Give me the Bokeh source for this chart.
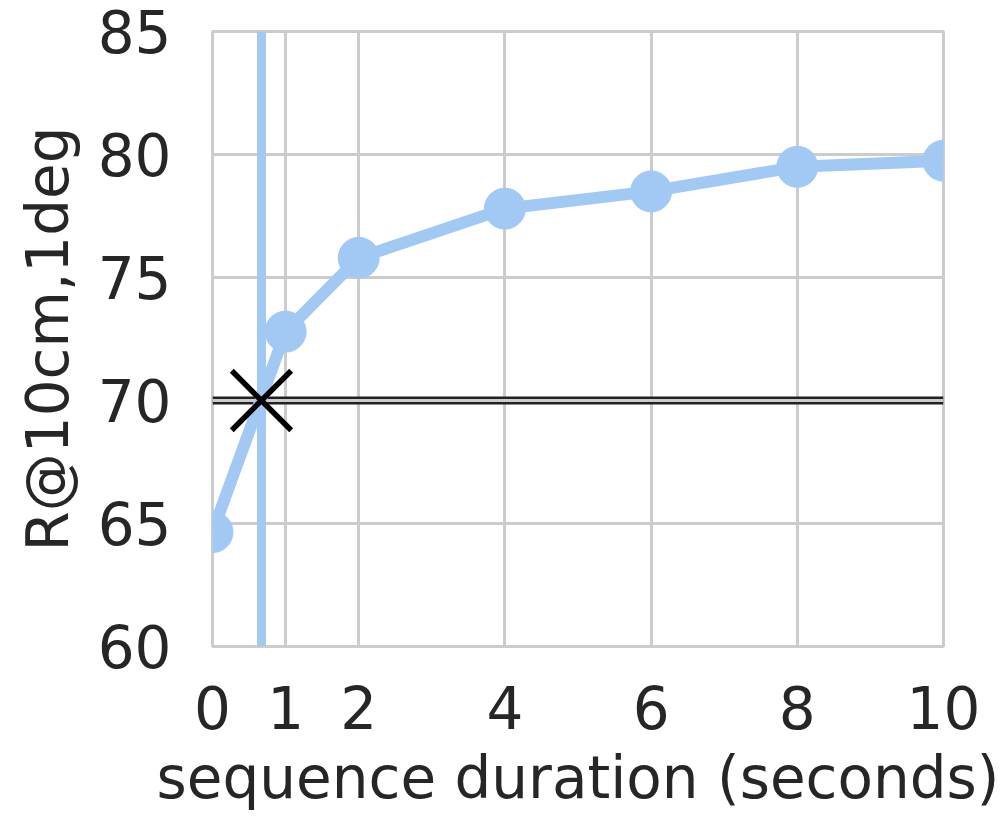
from bokeh.plotting import figure
from bokeh.models import Span, FixedTicker, Range1d
from bokeh.embed import file_html
from bokeh.resources import INLINE

durations = [0, 1, 2, 4, 6, 8, 10]
recall = [64.65, 72.8, 75.8, 77.8, 78.5, 79.5, 79.75]
x_ticks = [0, 1, 2, 4, 6, 8, 10]
y_ticks = [60, 65, 70, 75, 80, 85]
ref_x = [0.67]
ref_y = [70]

BLUE = "#a1c9f4"
GRID = "#cccccc"
TXT = "#262626"
FONT = "DejaVu Sans"

p = figure(width=1007, height=818, output_backend="svg", toolbar_location=None,
           x_range=Range1d(0, 10), y_range=Range1d(60, 85),
           min_border_left=212, min_border_right=64, min_border_top=31, min_border_bottom=172)

p.outline_line_color = GRID
p.outline_line_width = 3
p.background_fill_color = "white"

for ax in (p.xaxis, p.yaxis):
    ax.axis_line_color = None
    ax.major_tick_line_color = None
    ax.minor_tick_line_color = None
    ax.major_label_text_font = FONT
    ax.major_label_text_font_size = "58px"
    ax.major_label_text_color = TXT
    ax.axis_label_text_font = FONT
    ax.axis_label_text_font_size = "58px"
    ax.axis_label_text_color = TXT
    ax.axis_label_text_font_style = "normal"

p.xaxis.ticker = FixedTicker(ticks=x_ticks)
p.yaxis.ticker = FixedTicker(ticks=y_ticks)
p.xaxis.axis_label = "sequence duration (seconds)"
p.yaxis.axis_label = "R@10cm,1deg"
p.xaxis.major_label_standoff = 33
p.xaxis.axis_label_standoff = 12
p.yaxis.major_label_standoff = 35
p.yaxis.axis_label_standoff = 13

p.grid.grid_line_color = GRID
p.grid.grid_line_width = 3

p.add_layout(Span(location=ref_y[0], dimension="width", line_color="#222222", line_width=8, level="underlay"))
p.add_layout(Span(location=ref_y[0], dimension="width", line_color=GRID, line_width=3, level="underlay"))
p.add_layout(Span(location=ref_x[0], dimension="height", line_color=BLUE, line_width=9, level="underlay"))

p.line(durations, recall, line_color=BLUE, line_width=12)
p.scatter(durations, recall, size=41, fill_color=BLUE, line_color=BLUE)
p.scatter(ref_x, ref_y, marker="x", size=84, line_color="black", line_width=5.5)

open("out.html", "w").write(file_html(p, INLINE))
